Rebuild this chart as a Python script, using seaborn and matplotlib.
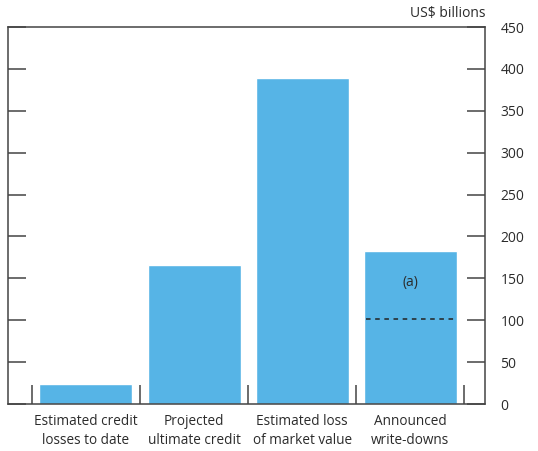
import matplotlib
matplotlib.use("Agg")
import matplotlib.pyplot as plt
import seaborn as sns
import pandas as pd

categories = ["Estimated credit\nlosses to date", "Projected\nultimate credit",
              "Estimated loss\nof market value", "Announced\nwrite-downs"]
values = [24, 166, 389, 183]
announced_line = 102
yticks = [0, 50, 100, 150, 200, 250, 300, 350, 400, 450]

sns.set_theme(style="white")
plt.rcParams['font.family'] = ['Open Sans', 'DejaVu Sans']

df = pd.DataFrame({"cat": categories, "val": values})
fig = plt.figure(figsize=(5.38, 4.51), dpi=100)
ax = fig.add_axes([0.0149, 0.1042, 0.8866, 0.8358])
bar_color = "#56B4E6"
text_color = "#2b2b2b"
sns.barplot(data=df, x="cat", y="val", color=bar_color, saturation=1, width=0.86, ax=ax)

ax.set_ylim(0, 450)
ax.set_xlim(-0.72, 3.69)
ax.set_xlabel("")
ax.set_ylabel("")
ax.yaxis.tick_right()
ax.set_yticks(yticks)
ax.set_yticklabels([str(v) for v in yticks], color=text_color, fontsize=10)
ax.tick_params(axis="y", which="both", direction="in", length=13, width=1.1,
               color="#444444", left=True, right=True, labelleft=False, labelright=True, pad=11)
ax.set_xticks(range(len(categories)))
ax.set_xticklabels(categories, color=text_color, fontsize=9.8, linespacing=1.4)
ax.tick_params(axis="x", which="major", length=0, pad=7)
ax.set_xticks([i - 0.5 for i in range(len(categories) + 1)], minor=True)
ax.tick_params(axis="x", which="minor", direction="in", length=14, width=1.1,
               color="#444444", bottom=True)

for s in ax.spines.values():
    s.set_color("#444444")
    s.set_linewidth(1.1)

# dashed line in announced write-downs bar
bar = ax.patches[3]
x0 = bar.get_x()
ax.plot([x0 + 0.02, x0 + bar.get_width() - 0.02], [announced_line, announced_line],
        ls=(0, (3, 3)), color="#222222", lw=1.1)
ax.text(3, 145, "(a)", ha="center", va="center", fontsize=10, color=text_color)

fig.text(485 / 538, 1 - 14 / 451, "US$ billions", ha="right", va="center",
         fontsize=10, color=text_color)

fig.savefig("out.png", dpi=100)
